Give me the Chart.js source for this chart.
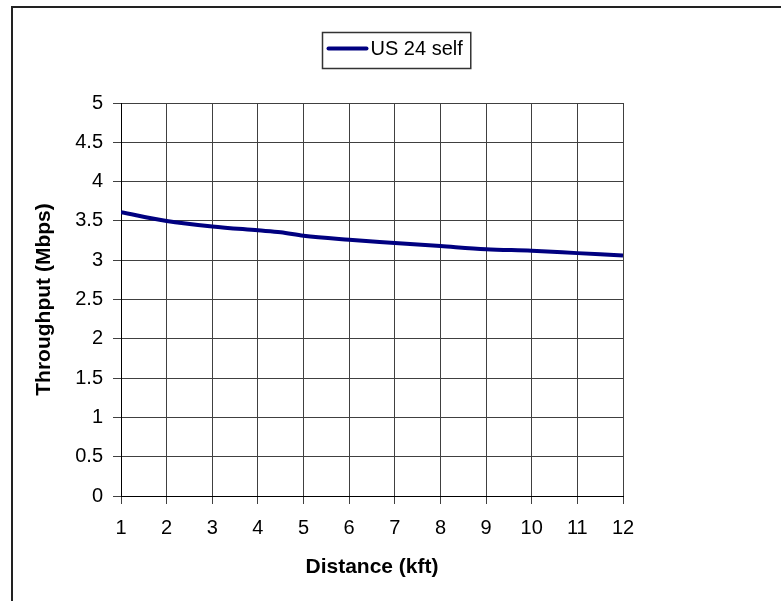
<!DOCTYPE html>
<html>
<head>
<meta charset="utf-8">
<script src="https://cdn.jsdelivr.net/npm/chart.js@4.4.1/dist/chart.umd.min.js"></script>
<style>
  html, body { margin: 0; padding: 0; background: #fff; }
</style>
</head>
<body>
<canvas id="throughputChart" width="781" height="601"></canvas>
<script>
// data
const distances = [1, 2, 3, 4, 4.5, 5, 6, 7, 8, 9, 10, 11, 12];
const throughput = [3.61, 3.50, 3.43, 3.38, 3.355, 3.31, 3.26, 3.22, 3.18, 3.14, 3.12, 3.09, 3.06];
const seriesLabel = 'US 24 self';
const xTitle = 'Distance (kft)';
const yTitle = 'Throughput (Mbps)';

const FONT = '"Liberation Sans", Arial, sans-serif';

// white page with the outer frame (open to the right and bottom)
const frame = {
    id: 'frame',
    beforeDraw(chart) {
        const ctx = chart.ctx;
        ctx.save();
        ctx.fillStyle = '#fff';
        ctx.fillRect(0, 0, chart.width, chart.height);
        ctx.strokeStyle = '#222';
        ctx.lineWidth = 2;
        ctx.strokeRect(12, 7, chart.width + 20, chart.height + 20);
        ctx.restore();
    }
};

// legend drawn as a boxed entry, like the original
const boxedLegend = {
    id: 'boxedLegend',
    afterDraw(chart) {
        const ctx = chart.ctx;
        const ds = chart.data.datasets[0];
        ctx.save();
        ctx.font = '20px ' + FONT;
        const textW = ctx.measureText(ds.label).width;
        const boxW = 6 + 38 + 4 + textW + 8;
        const boxH = 36;
        const left = Math.round(396 - boxW / 2) + 0.5;
        const top = 32.5;
        const midY = top + boxH / 2 - 2;
        ctx.fillStyle = '#fff';
        ctx.fillRect(left, top, boxW, boxH);
        ctx.strokeStyle = '#333';
        ctx.lineWidth = 1.5;
        ctx.strokeRect(left, top, boxW, boxH);
        ctx.strokeStyle = ds.borderColor;
        ctx.lineWidth = 4;
        ctx.lineCap = 'round';
        ctx.beginPath();
        ctx.moveTo(left + 6, midY);
        ctx.lineTo(left + 44, midY);
        ctx.stroke();
        ctx.fillStyle = '#000';
        ctx.textBaseline = 'middle';
        ctx.fillText(ds.label, left + 48, midY + 1);
        ctx.restore();
    }
};

const ctx = document.getElementById('throughputChart').getContext('2d');

const chart = new Chart(ctx, {
    type: 'line',
    data: {
        datasets: [{
            label: seriesLabel,
            data: distances.map((d, i) => ({ x: d, y: throughput[i] })),
            borderColor: '#000080',
            borderWidth: 4,
            pointRadius: 0,
            tension: 0.4,
            cubicInterpolationMode: 'monotone',
            fill: false
        }]
    },
    options: {
        responsive: false,
        devicePixelRatio: 1,
        animation: false,
        layout: {
            padding: { top: 103, right: 158, bottom: 0, left: 0 }
        },
        plugins: {
            legend: { display: false },
            tooltip: { enabled: false }
        },
        scales: {
            x: {
                type: 'linear',
                min: 1,
                max: 12,
                ticks: {
                    stepSize: 1,
                    color: '#000',
                    padding: 12,
                    font: { family: FONT, size: 20 }
                },
                grid: { color: '#404040', lineWidth: 1, tickLength: 8 },
                border: { color: '#000', width: 1 },
                title: {
                    display: true,
                    text: xTitle,
                    color: '#000',
                    font: { family: FONT, size: 21, weight: 'bold' },
                    padding: { top: 0, bottom: 21 }
                },
                afterFit(scale) { scale.height = 105; }
            },
            y: {
                min: 0,
                max: 5,
                ticks: {
                    stepSize: 0.5,
                    color: '#000',
                    padding: 10,
                    font: { family: FONT, size: 20 },
                    callback: v => String(+v.toFixed(1))
                },
                grid: { color: '#404040', lineWidth: 1, tickLength: 8 },
                border: { color: '#000', width: 1 },
                title: {
                    display: true,
                    text: yTitle,
                    color: '#000',
                    font: { family: FONT, size: 21, weight: 'bold' },
                    padding: { top: 32, bottom: 0 }
                },
                afterFit(scale) { scale.width = 121; }
            }
        }
    },
    plugins: [frame, boxedLegend]
});
</script>
</body>
</html>
